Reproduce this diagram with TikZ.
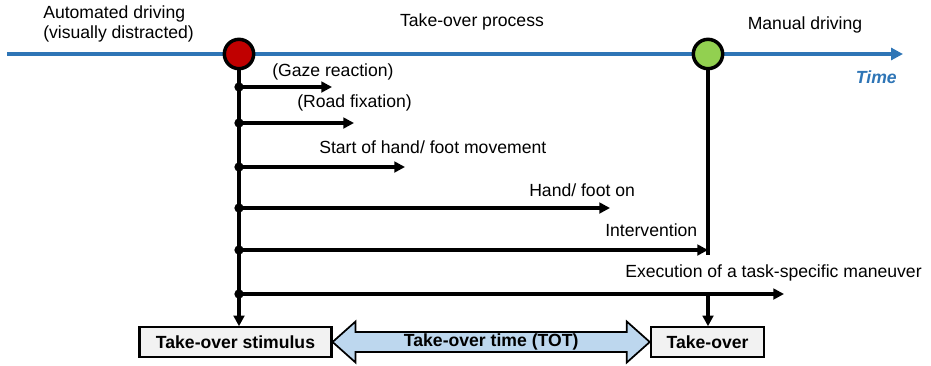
\documentclass[tikz,border=0pt]{standalone}
\usepackage{fontspec}
\setmainfont{Liberation Sans}
\usetikzlibrary{arrows.meta,calc}
\definecolor{timeblue}{HTML}{2E75B6}
\definecolor{stopred}{HTML}{C00000}
\definecolor{gogreen}{HTML}{92D050}
\definecolor{totblue}{HTML}{BDD7EE}
\definecolor{boxgray}{HTML}{F2F2F2}
\tikzset{
  lbl/.style = {font=\fontsize{13.2}{15}\selectfont, inner sep=0pt},
  lbl_w/.style = {lbl, anchor=west},
  evt/.style = {circle, draw=black, line width=2.6pt, minimum size=22pt, inner sep=0pt},
  phase_box/.style = {draw=black, fill=boxgray, line width=1.6pt, minimum height=22pt,
    inner sep=0pt, font=\fontsize{13.2}{15}\selectfont\bfseries},
  tick/.style = {line width=2.5pt, -{Triangle[length=8pt,width=8pt]}},
  stem/.style = {line width=2.5pt},
  dot/.style = {circle, fill=black, inner sep=0pt, minimum size=7pt},
}

\begin{document}
\begin{tikzpicture}[x=0.75pt, y=-0.75pt]
  \useasboundingbox (0,0) rectangle (931,365);
  \coordinate (t0) at (7,54);
  \coordinate (t1) at (903,54);
  \draw[timeblue, line width=2.5pt, -{Triangle[length=9pt,width=9pt]}] (t0) -- (t1);

  \node [lbl, align=left, anchor=west] (auto) at (43,24) {Automated driving\\(visually distracted)};
  \node [lbl] (proc) at (472,22) {Take-over process};
  \node [lbl] (manual) at (805,25) {Manual driving};
  \node [lbl, anchor=east, text=timeblue, font=\fontsize{13.2}{15}\selectfont\bfseries\itshape] (time) at (897,77) {Time};

  \node [phase_box, minimum width=144pt] (stim) at (235.5,342) {Take-over stimulus};
  \node [phase_box, minimum width=85pt] (takeover) at (707.5,342) {Take-over};

  \node [evt, fill=stopred] (tos) at (239,54) {};
  \node [evt, fill=gogreen] (tov) at (708,54) {};

  \coordinate (b1) at (239,87);
  \coordinate (b2) at (239,123);
  \coordinate (b3) at (239,167);
  \coordinate (b4) at (239,208);
  \coordinate (b5) at (239,250);
  \coordinate (b6) at (239,294);
  \coordinate (e1) at (332,87);
  \coordinate (e2) at (354,123);
  \coordinate (e3) at (405,167);
  \coordinate (e4) at (610,208);
  \coordinate (e5) at (708,250);
  \coordinate (e6) at (784,294);

  \draw[stem, -{Triangle[length=8pt,width=8pt]}] (tos.south) -- (tos.south |- stim.north);
  \draw[stem] (tov.south) -- ($(tov.south |- e5)+(0,5)$);
  \draw[stem, -{Triangle[length=8pt,width=8pt]}] (tov.south |- e6) -- (tov.south |- takeover.north);

  \foreach \i in {1,...,6}{
    \draw[tick] (b\i) -- (e\i);
    \node [dot] at (b\i) {};
  }

  \node [lbl_w] (l1) at (272,72) {(Gaze reaction)};
  \node [lbl_w] (l2) at (297,103) {(Road fixation)};
  \node [lbl_w] (l3) at (319,147) {Start of hand/ foot movement};
  \node [lbl_w] (l4) at (529,190) {Hand/ foot on};
  \node [lbl_w] (l5) at (605,230) {Intervention};
  \node [lbl_w] (l6) at (625,273) {Execution of a task-specific maneuver};

  \draw[fill=totblue, line width=1.3pt, line join=miter]
    (stim.east) -- ++(23,-20.5) -- ++(0,10.5) -- ($(takeover.west)+(-23,-10)$)
    -- ++(0,-10.5) -- (takeover.west) -- ++(-23,20.5) -- ++(0,-10.5)
    -- ($(stim.east)+(23,10)$) -- ++(0,10.5) -- cycle;
  \node [lbl, font=\fontsize{13.2}{15}\selectfont\bfseries] (tot) at ($(stim.east)!0.5!(takeover.west)$) {Take-over time (TOT)};
\end{tikzpicture}
\end{document}
